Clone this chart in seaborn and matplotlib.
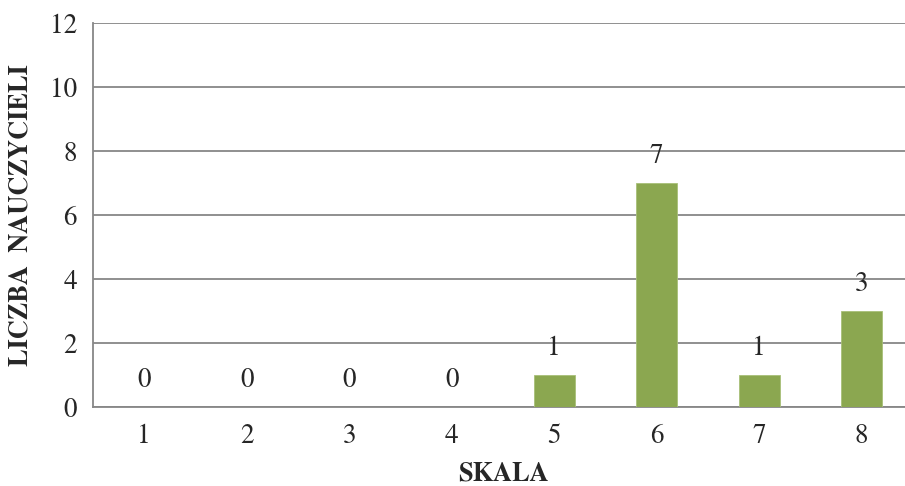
import numpy as np
import pandas as pd
import matplotlib.pyplot as plt
import seaborn as sns

# Data
skala = ["1", "2", "3", "4", "5", "6", "7", "8"]
liczba = [0, 0, 0, 0, 1, 7, 1, 3]

df = pd.DataFrame({"Skala": skala, "Liczba": liczba})

sns.set_style("white")
fnt = "TeX Gyre Termes"
plt.rcParams["font.family"] = [fnt, "Liberation Serif", "DejaVu Serif"]

grid_col = "#878787"
bar_col = "#8BA750"

fig = plt.figure(figsize=(9.05, 4.86), dpi=100)
ax = fig.add_axes([0.1028, 0.1626, 0.906, 0.790])

sns.barplot(data=df, x="Skala", y="Liczba", color=bar_col, width=0.4,
            saturation=1, edgecolor="#A8C078", linewidth=0.6, ax=ax, zorder=3)

ax.set_ylim(0, 12)
ax.set_yticks(range(0, 13, 2))
ax.set_xlim(-0.5, len(skala) - 0.5)
ax.yaxis.grid(True, color=grid_col, linewidth=1.3, zorder=0)
ax.set_axisbelow(True)

# value labels
for i, v in enumerate(liczba):
    ax.annotate(str(v), (i, v), xytext=(0, 10), textcoords="offset points",
                ha="center", va="bottom", fontsize=19.5)

# ticks between categories on x axis
ax.set_xticks(np.arange(0.5, len(skala) - 0.5), minor=True)
ax.tick_params(axis="x", which="major", length=0, labelsize=19.5, pad=12)
ax.tick_params(axis="x", which="minor", length=4.5, width=1.3, color=grid_col)
ax.tick_params(axis="y", length=4.5, width=1.3, color=grid_col, labelsize=19.5, pad=7)

for s in ["top", "right"]:
    ax.spines[s].set_visible(False)
for s in ["left", "bottom"]:
    ax.spines[s].set_color(grid_col)
    ax.spines[s].set_linewidth(1.3)

ax.set_xlabel("SKALA", fontsize=19, fontweight="bold", labelpad=9)
ax.set_ylabel("LICZBA  NAUCZYCIELI", fontsize=19, fontweight="bold", labelpad=12)

plt.savefig("out.png", dpi=100)
